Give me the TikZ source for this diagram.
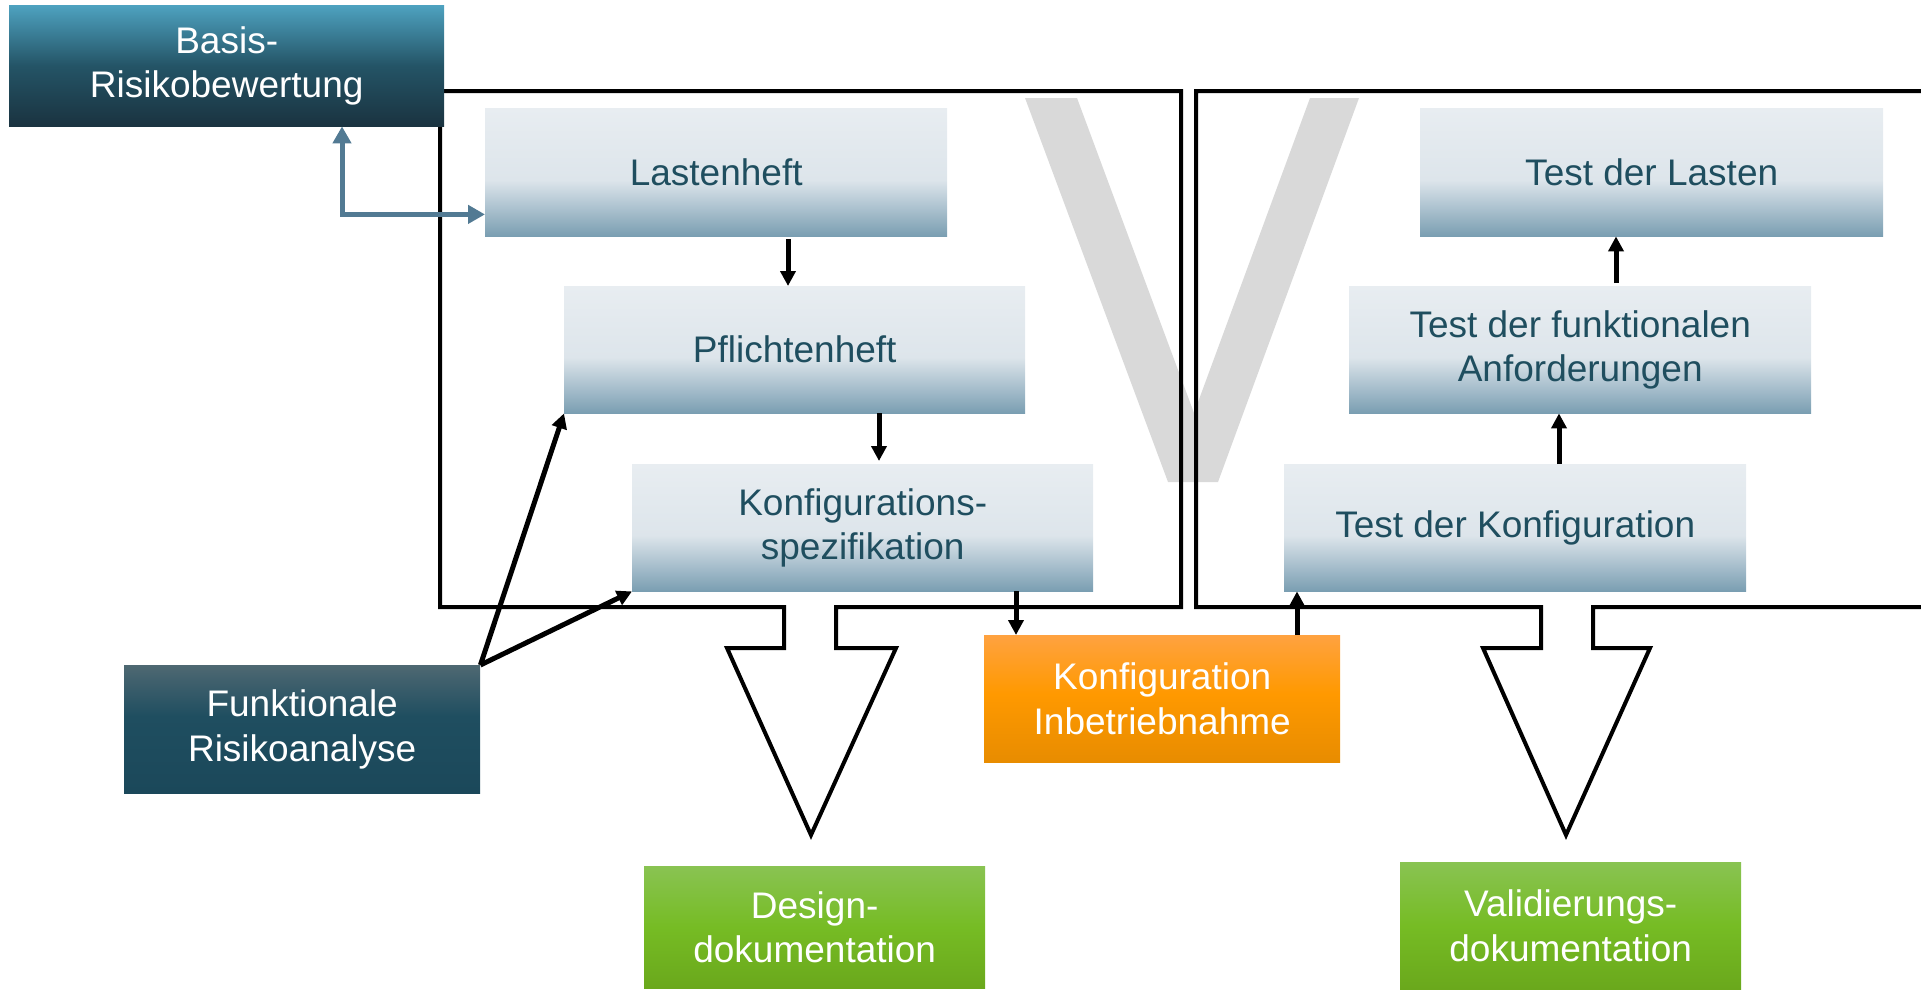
\documentclass[tikz,border=0pt]{standalone}
\usepackage{fontspec}
\setmainfont{Liberation Sans}
\usetikzlibrary{arrows.meta,calc}
\definecolor{lt1}{RGB}{232,237,241}
\definecolor{lt2}{RGB}{221,229,235}
\definecolor{lt3}{RGB}{122,158,178}
\definecolor{ba1}{RGB}{78,162,192}
\definecolor{ba2}{RGB}{36,84,102}
\definecolor{ba3}{RGB}{26,51,64}
\definecolor{fu1}{RGB}{78,104,114}
\definecolor{fu2}{RGB}{31,78,96}
\definecolor{fu3}{RGB}{27,72,90}
\definecolor{or1}{RGB}{255,162,64}
\definecolor{or2}{RGB}{255,153,0}
\definecolor{or3}{RGB}{232,140,0}
\definecolor{gr1}{RGB}{137,195,82}
\definecolor{gr2}{RGB}{118,188,36}
\definecolor{gr3}{RGB}{106,168,28}
\definecolor{txt}{RGB}{31,78,95}
\definecolor{bluearr}{RGB}{82,122,147}
\definecolor{vgray}{RGB}{217,217,217}
\pgfdeclareverticalshading{lightsh}{100bp}{color(0bp)=(lt3); color(25bp)=(lt3); color(47bp)=(lt2); color(75bp)=(lt1); color(100bp)=(lt1)}
\pgfdeclareverticalshading{basissh}{100bp}{color(0bp)=(ba3); color(25bp)=(ba3); color(50bp)=(ba2); color(75bp)=(ba1); color(100bp)=(ba1)}
\pgfdeclareverticalshading{funksh}{100bp}{color(0bp)=(fu3); color(25bp)=(fu3); color(55bp)=(fu2); color(75bp)=(fu1); color(100bp)=(fu1)}
\pgfdeclareverticalshading{orangesh}{100bp}{color(0bp)=(or3); color(25bp)=(or3); color(52bp)=(or2); color(75bp)=(or1); color(100bp)=(or1)}
\pgfdeclareverticalshading{greensh}{100bp}{color(0bp)=(gr3); color(25bp)=(gr3); color(50bp)=(gr2); color(75bp)=(gr1); color(100bp)=(gr1)}
\begin{document}
\begin{tikzpicture}[x=1pt,y=-1pt,
  bx/.style={rectangle, inner sep=0pt, anchor=north west, align=center,
    font=\fontsize{37pt}{44.5pt}\selectfont},
  lightbox/.style={bx, shading=lightsh, text=txt},
  basisbox/.style={bx, shading=basissh, text=white},
  funkbox/.style={bx, shading=funksh, text=white},
  orangebox/.style={bx, shading=orangesh, text=white},
  greenbox/.style={bx, shading=greensh, text=white},
  frame/.style={draw=black, line width=4pt, line join=miter},
  arr/.style={draw=black, line width=5pt, -{Triangle[length=15pt,width=15pt]}},
  barr/.style={draw=bluearr, line width=5pt, {Triangle[length=17pt,width=18pt]}-{Triangle[length=17pt,width=18pt]}}
]
\useasboundingbox (0,0) rectangle (1921,990);

% V watermark
\fill[vgray] (1025,98) -- (1077,98) -- (1194,413) -- (1310,98) -- (1359,98)
  -- (1218,482) -- (1168,482) -- cycle;

% frames
\draw[frame] (440,91) -- (1181,91) -- (1181,607) -- (836,607) -- (836,648)
  -- (896,648) -- (811,835) -- (727,648) -- (784,648) -- (784,607) -- (440,607) -- cycle;
\draw[frame] (1935,91) -- (1196,91) -- (1196,607) -- (1541,607) -- (1541,648)
  -- (1483,648) -- (1566,835) -- (1650,648) -- (1593,648) -- (1593,607) -- (1935,607);

% nodes
\node[basisbox, minimum width=435pt, minimum height=121pt] (basis) at (9,5) {Basis-\\Risikobewertung};
\node[lightbox, minimum width=462pt, minimum height=128pt] (last) at (485,108) {Lastenheft};
\node[lightbox, minimum width=461pt, minimum height=127pt] (pfl) at (564,286) {Pflichtenheft};
\node[lightbox, minimum width=461pt, minimum height=127pt] (kspec) at (632,464) {Konfigurations-\\spezifikation};
\node[lightbox, minimum width=463pt, minimum height=128pt] (tlast) at (1420,108) {Test der Lasten};
\node[lightbox, minimum width=462pt, minimum height=127pt] (tfunk) at (1349,286) {Test der funktionalen\\Anforderungen};
\node[lightbox, minimum width=462pt, minimum height=127pt] (tkonf) at (1284,464) {Test der Konfiguration};
\node[funkbox, minimum width=356pt, minimum height=128pt] (funk) at (124,665) {Funktionale\\Risikoanalyse};
\node[orangebox, minimum width=356pt, minimum height=127pt] (orng) at (984,635) {Konfiguration\\Inbetriebnahme};
\node[greenbox, minimum width=341pt, minimum height=122pt] (design) at (644,866) {Design-\\dokumentation};
\node[greenbox, minimum width=341pt, minimum height=127pt] (valid) at (1400,862) {Validierungs-\\dokumentation};

% connectors
\draw[barr] ([xshift=333pt]basis.south west) |- ([yshift=22pt]last.south west);
\draw[arr] ([xshift=303pt,yshift=-3pt]last.south west) -- ([xshift=224pt]pfl.north west);
\draw[arr] ([xshift=315pt]pfl.south west) -- ([xshift=247pt,yshift=3pt]kspec.north west);
\draw[arr] ([xshift=384pt]kspec.south west) -- ([xshift=32pt]orng.north west);
\draw[arr] ([xshift=313pt]orng.north west) -- ([xshift=13pt]tkonf.south west);
\draw[arr] ([xshift=275pt]tkonf.north west) -- ([xshift=210pt]tfunk.south west);
\draw[arr] ([xshift=267pt,yshift=3pt]tfunk.north west) -- ([xshift=196pt]tlast.south west);
\draw[arr] (funk.north east) -- (pfl.south west);
\draw[arr] (funk.north east) -- (kspec.south west);
\end{tikzpicture}
\end{document}
